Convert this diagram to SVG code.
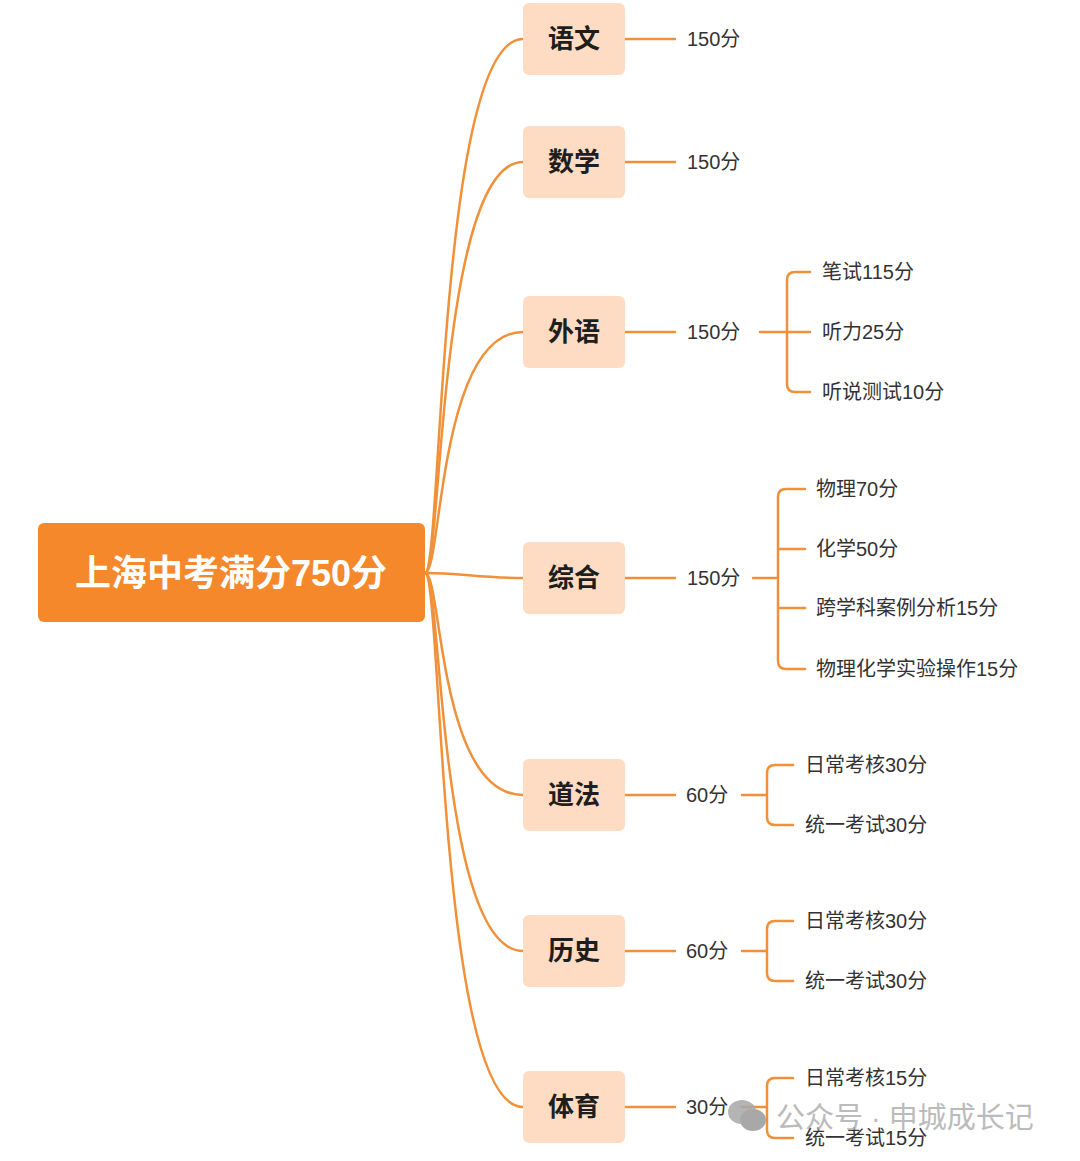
<svg xmlns="http://www.w3.org/2000/svg" width="1080" height="1161" viewBox="0 0 1080 1161">
<style>
.c{fill:none;stroke:#F0913A;stroke-width:2.5;stroke-linecap:round}
.n{fill:#FDDCC3}
.nt{font-family:"Liberation Sans","Noto Sans CJK SC",sans-serif;font-weight:bold;font-size:26px;fill:#1e1e1e;text-anchor:middle}
.s{font-family:"Liberation Sans","Noto Sans CJK SC",sans-serif;font-size:20px;fill:#333}
</style>
<rect width="1080" height="1161" fill="#fff"/>
<g id="connectors">
<path class="c" d="M425,573 C442,573 438,39 523,39"/>
<path class="c" d="M425,573 C442,573 438,162 523,162"/>
<path class="c" d="M425,573 C442,573 438,332 523,332"/>
<path class="c" d="M425,573 C460,573 480,578 523,578"/>
<path class="c" d="M425,573 C442,573 438,795 523,795"/>
<path class="c" d="M425,573 C442,573 438,951 523,951"/>
<path class="c" d="M425,573 C442,573 438,1107 523,1107"/>
<path class="c" d="M625,39H675M625,162H675M625,332H675M625,578H675M625,795H675M625,951H675M625,1107H675"/>
<path class="c" d="M760,332H810M810,272H795Q787,272 787,280V384Q787,392 795,392H810"/>
<path class="c" d="M753,578H778M805,489H786Q778,489 778,497V661Q778,669 786,669H805M778,549H805M778,608H805"/>
<path class="c" d="M742,795H767M793,765H775Q767,765 767,773V817Q767,825 775,825H793"/>
<path class="c" d="M742,951H767M793,921H775Q767,921 767,929V973Q767,981 775,981H793"/>
<path class="c" d="M742,1107H767M793,1078H775Q767,1078 767,1086V1130Q767,1138 775,1138H793"/>
</g>
<g id="root"><rect x="38" y="523" width="387" height="99" rx="6" fill="#F5882A"/>
<text x="231" y="586" text-anchor="middle" font-family="Liberation Sans,Noto Sans CJK SC,sans-serif" font-weight="bold" font-size="36" fill="#fff">上海中考满分750分</text></g>
<g id="n1"><rect class="n" x="523" y="3" width="102" height="72" rx="6"/><text class="nt" x="574" y="48">语文</text><text class="s" x="687" y="46">150分</text></g>
<g id="n2"><rect class="n" x="523" y="126" width="102" height="72" rx="6"/><text class="nt" x="574" y="171">数学</text><text class="s" x="687" y="169">150分</text></g>
<g id="n3"><rect class="n" x="523" y="296" width="102" height="72" rx="6"/><text class="nt" x="574" y="341">外语</text><text class="s" x="687" y="339">150分</text>
<text class="s" x="822" y="279">笔试115分</text><text class="s" x="822" y="339">听力25分</text><text class="s" x="822" y="399">听说测试10分</text></g>
<g id="n4"><rect class="n" x="523" y="542" width="102" height="72" rx="6"/><text class="nt" x="574" y="587">综合</text><text class="s" x="687" y="585">150分</text>
<text class="s" x="816" y="496">物理70分</text><text class="s" x="816" y="556">化学50分</text><text class="s" x="816" y="615">跨学科案例分析15分</text><text class="s" x="816" y="676">物理化学实验操作15分</text></g>
<g id="n5"><rect class="n" x="523" y="759" width="102" height="72" rx="6"/><text class="nt" x="574" y="804">道法</text><text class="s" x="686" y="802">60分</text>
<text class="s" x="805" y="772">日常考核30分</text><text class="s" x="805" y="832">统一考试30分</text></g>
<g id="n6"><rect class="n" x="523" y="915" width="102" height="72" rx="6"/><text class="nt" x="574" y="960">历史</text><text class="s" x="686" y="958">60分</text>
<text class="s" x="805" y="928">日常考核30分</text><text class="s" x="805" y="988">统一考试30分</text></g>
<g id="n7"><rect class="n" x="523" y="1071" width="102" height="72" rx="6"/><text class="nt" x="574" y="1116">体育</text><text class="s" x="686" y="1114">30分</text>
<text class="s" x="805" y="1085">日常考核15分</text><text class="s" x="805" y="1145">统一考试15分</text></g>
<g id="watermark" opacity="0.85">
<ellipse cx="742" cy="1112" rx="14" ry="12" fill="#a8a8a8"/>
<ellipse cx="753" cy="1120" rx="13" ry="11" fill="#9a9a9a"/>
<text x="776" y="1128" font-family="Liberation Sans,Noto Sans CJK SC,sans-serif" font-size="29" fill="#b0b0b0">公众号 · 申城成长记</text>
</g>
</svg>
